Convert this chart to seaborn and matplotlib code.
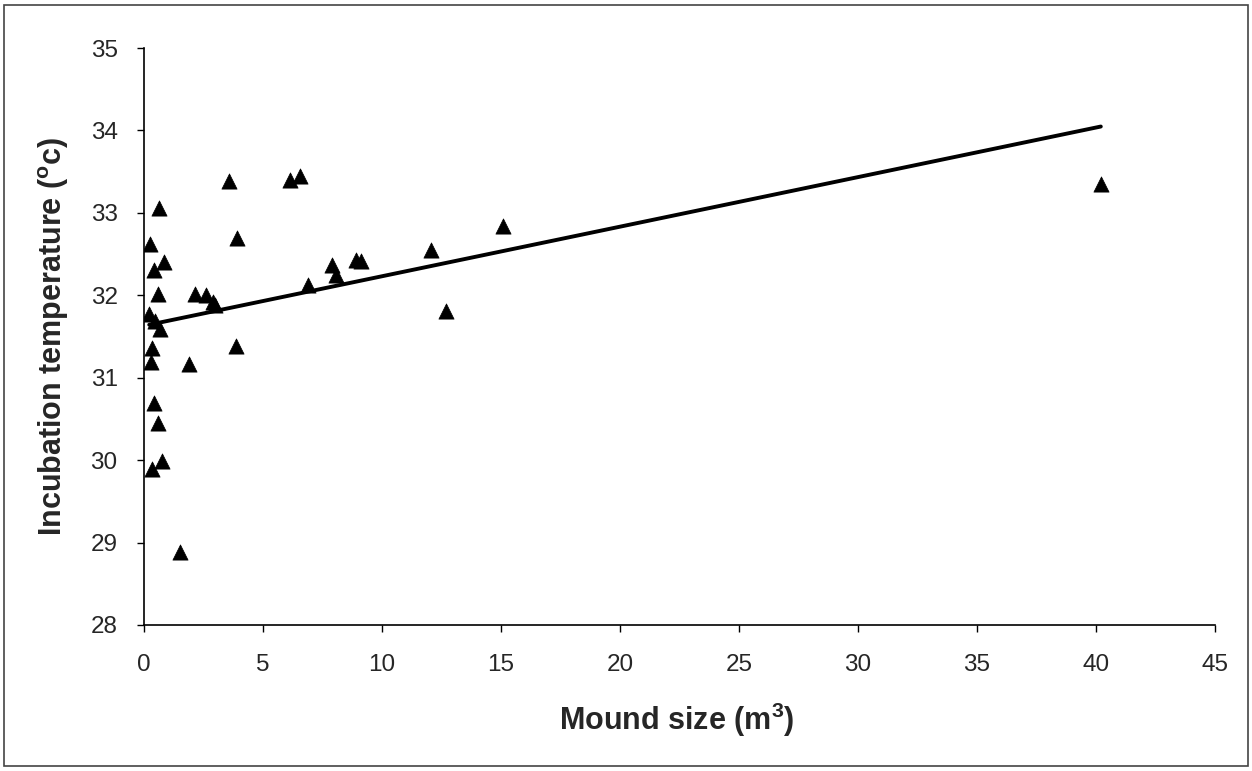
import matplotlib
matplotlib.use('Agg')
import matplotlib.pyplot as plt
import seaborn as sns
import pandas as pd
from matplotlib.patches import Rectangle

# mound size (m3) and incubation temperature (deg C)
mound_size = [0.25, 0.22, 0.32, 0.28, 0.32, 0.42, 0.42, 0.45, 0.59, 0.60,
              0.64, 0.67, 0.74, 0.85, 1.51, 1.89, 2.14, 2.60, 2.90, 3.00,
              3.58, 3.89, 3.87, 6.13, 6.55, 6.88, 7.88, 8.07, 8.90, 9.10,
              12.05, 12.70, 15.10, 40.20]
incubation_temp = [32.62, 31.77, 31.36, 31.19, 29.89, 30.69, 32.31, 31.69, 32.01, 30.45,
                   33.06, 31.59, 29.99, 32.41, 28.89, 31.17, 32.01, 32.00, 31.92, 31.88,
                   33.39, 32.70, 31.39, 33.40, 33.45, 32.12, 32.37, 32.25, 32.43, 32.42,
                   32.55, 31.81, 32.84, 33.35]
x_ticks = [0, 5, 10, 15, 20, 25, 30, 35, 40, 45]
y_ticks = [28, 29, 30, 31, 32, 33, 34, 35]

df = pd.DataFrame({'size': mound_size, 'temp': incubation_temp})

sns.set_style('white')
plt.rcParams['font.family'] = ['Liberation Sans', 'DejaVu Sans']
plt.rcParams['mathtext.fontset'] = 'custom'
plt.rcParams['mathtext.rm'] = 'Liberation Sans:bold'
plt.rcParams['mathtext.it'] = 'Liberation Sans:bold'
plt.rcParams['mathtext.bf'] = 'Liberation Sans:bold'

fig = plt.figure(figsize=(12.52, 7.71), dpi=100)
ax = fig.add_axes([0.115, 0.1894, 0.8555, 0.7483])

# linear trend line over the data range
sns.regplot(data=df, x='size', y='temp', scatter=False, ci=None, truncate=True,
            line_kws={'color': 'black', 'lw': 2.8}, ax=ax)
sns.scatterplot(data=df, x='size', y='temp', marker='^', s=120, color='black',
                edgecolor='black', linewidth=0.5, ax=ax, zorder=3)

ax.set_xlim(0, 45)
ax.set_ylim(28, 35)
ax.set_xticks(x_ticks)
ax.set_yticks(y_ticks)
ax.tick_params(axis='both', labelsize=17.5, direction='out', length=5, width=1,
               color='black', left=True, bottom=True)
ax.tick_params(axis='x', pad=16)
ax.tick_params(axis='y', pad=14)

for side in ['top', 'right']:
    ax.spines[side].set_visible(False)
for side in ['left', 'bottom']:
    ax.spines[side].set_color('black')
    ax.spines[side].set_linewidth(1.2)

ax.set_xlabel(r'Mound size (m$^{3}$)', fontsize=22, fontweight='bold')
ax.set_ylabel(r'Incubation temperature ($^{o}$c)', fontsize=22, fontweight='bold')
ax.xaxis.set_label_coords(0.497, -0.165)
ax.xaxis.label.set_va('center')
ax.yaxis.set_label_coords(-0.084, 0.5)
ax.yaxis.label.set_va('center')

# thin frame round the whole chart area
fig.patches.append(Rectangle((0.003, 0.006), 0.994, 0.988, transform=fig.transFigure,
                             fill=False, edgecolor='#444444', linewidth=1.2))

fig.savefig('out.png', dpi=100)
